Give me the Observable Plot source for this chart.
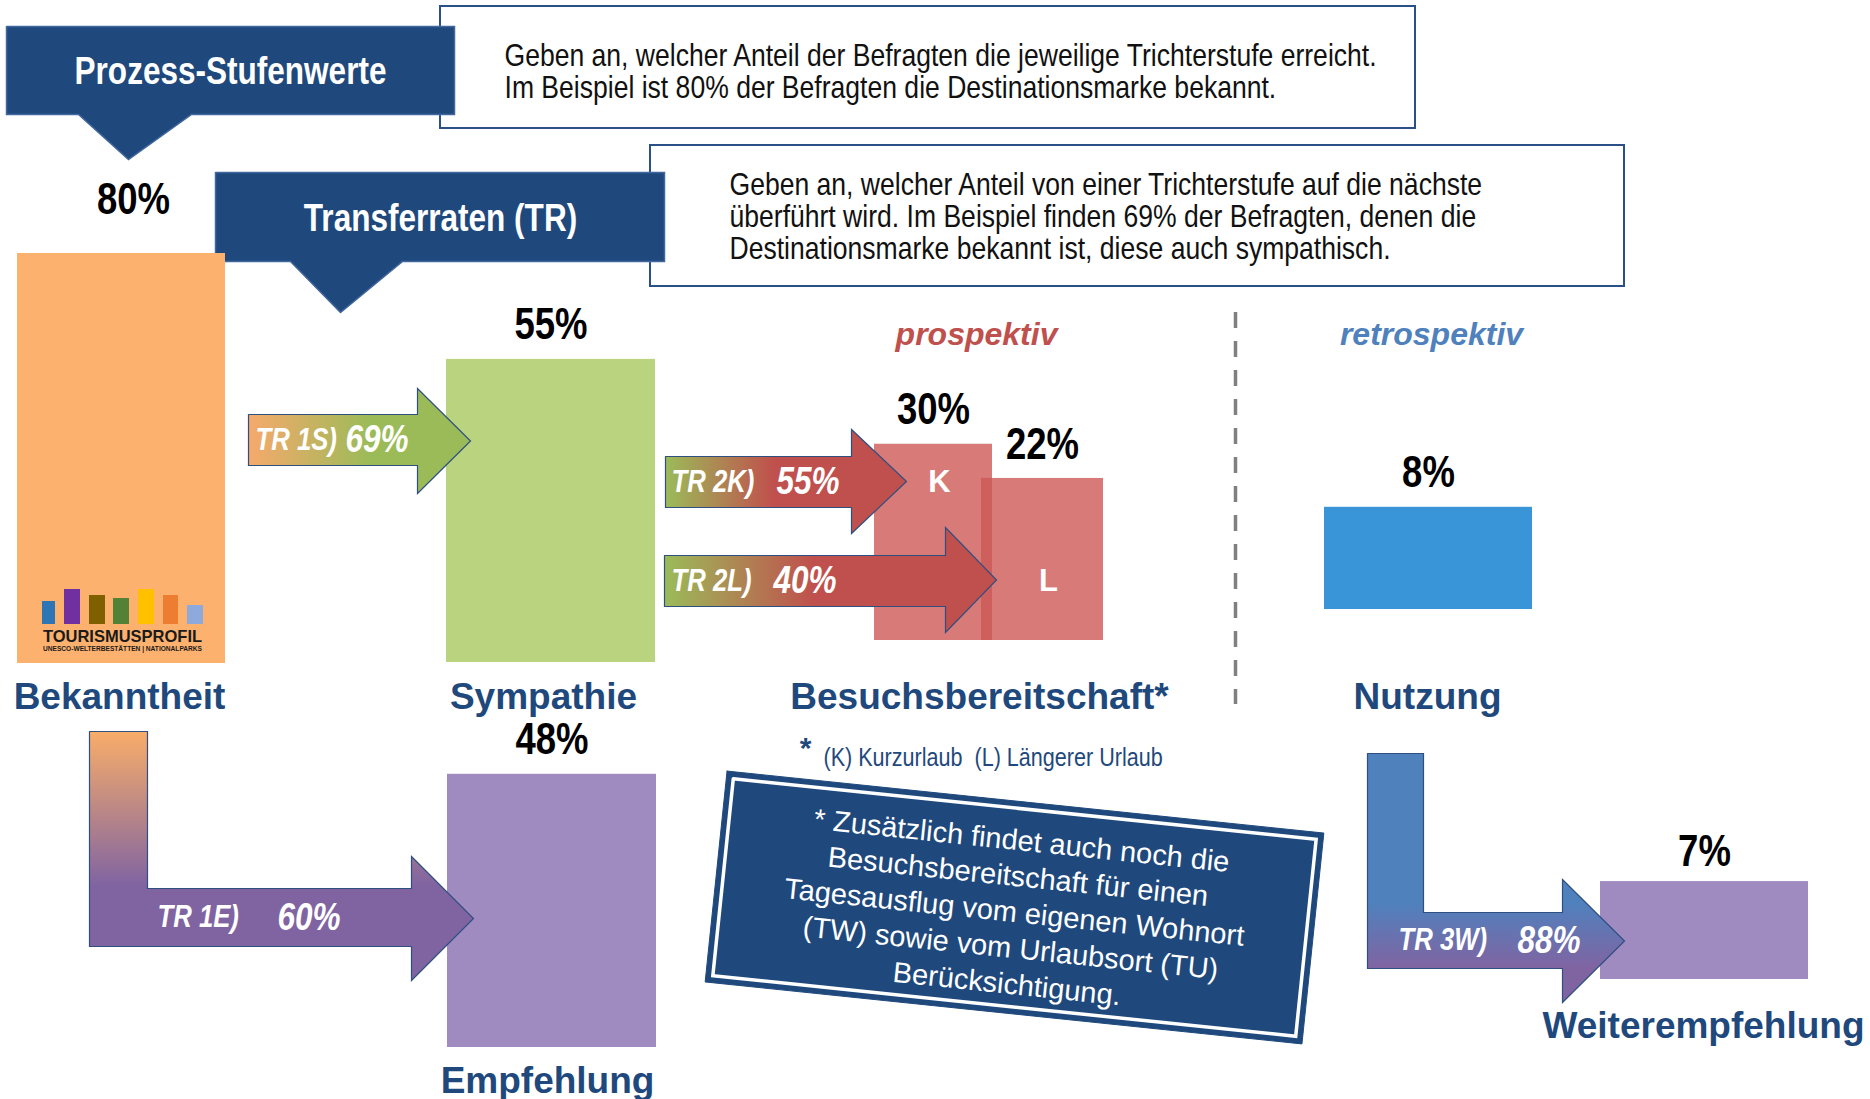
<!DOCTYPE html>
<html>
<head>
<meta charset="utf-8">
<script src="https://cdn.jsdelivr.net/npm/d3@7"></script>
<script src="https://cdn.jsdelivr.net/npm/@observablehq/plot@0.6"></script>
<style>
  html, body { margin: 0; padding: 0; background: #fff; }
  #chart svg { display: block; }
</style>
</head>
<body>
<div id="chart"></div>
<script>
// ---------------- DATA ----------------
const barKeys = ["Bekanntheit", "Sympathie", "K", "L", "Nutzung", "Empfehlung", "Weiterempfehlung"];
const barValues = [80, 55, 30, 22, 8, 48, 7];
const barInnerLabels = ["", "", "K", "L", "", "", ""];
const stageNames = ["Bekanntheit", "Sympathie", "Besuchsbereitschaft*", "Nutzung", "Empfehlung", "Weiterempfehlung"];
const transferCodes = ["TR 1S)", "TR 2K)", "TR 2L)", "TR 1E)", "TR 3W)"];
const transferValues = [69, 55, 40, 60, 88];
const phaseLabels = ["prospektiv", "retrospektiv"];
const calloutTitles = ["Prozess-Stufenwerte", "Transferraten (TR)"];
const calloutTexts = [
  "Geben an, welcher Anteil der Befragten die jeweilige Trichterstufe erreicht.\nIm Beispiel ist 80% der Befragten die Destinationsmarke bekannt.",
  "Geben an, welcher Anteil von einer Trichterstufe auf die nächste\nüberführt wird. Im Beispiel finden 69% der Befragten, denen die\nDestinationsmarke bekannt ist, diese auch sympathisch."
];
const footnoteText = "(K) Kurzurlaub  (L) Längerer Urlaub";
const noteText = "* Zusätzlich findet auch noch die\nBesuchsbereitschaft für einen\nTagesausflug vom eigenen Wohnort\n(TW) sowie vom Urlaubsort (TU)\nBerücksichtigung.";
const logoTitle = "TOURISMUSPROFIL";
const logoSub = "UNESCO-WELTERBESTÄTTEN | NATIONALPARKS";

// ---------------- LAYOUT & STYLE ----------------
const W = 1870, H = 1099;
// "Narrow" texts are drawn in Liberation Sans and compressed horizontally afterwards
const NARROW = "'Liberation Sans', 'Arial Narrow', sans-serif";
const SANS = "'Liberation Sans', Arial, sans-serif";
const NARROW_SCALE = 0.83;
const DARK = "#1F497D";

const barLayout = {
  Bekanntheit:      {x1: 17,   x2: 225,  base: 663,  fill: "#FDB16E", gap: 54, dx: 12},
  Sympathie:        {x1: 446,  x2: 655,  base: 662,  fill: "#B9D37F"},
  K:                {x1: 874,  x2: 992,  base: 640,  fill: "#CD5956", opacity: 0.8, innerY: 482},
  L:                {x1: 981,  x2: 1103, base: 640,  fill: "#CD5956", opacity: 0.8, innerY: 581},
  Nutzung:          {x1: 1324, x2: 1532, base: 609,  fill: "#3A94D8"},
  Empfehlung:       {x1: 447,  x2: 656,  base: 1047, fill: "#A08BC0"},
  Weiterempfehlung: {x1: 1600, x2: 1808, base: 979,  fill: "#A08BC0", gap: 30}
};
const stageLabelPos = [[119, 697], [543, 697], [979, 697], [1427, 697], [547, 1081], [1703, 1026]];

const arrowLayout = [
  {type: "straight", tail: 248, bt: 414, bb: 465, hb: 417,  ht: 388, hbot: 493, tip: 470,  grad: "g1s", codeX: 255,  valX: 345},
  {type: "straight", tail: 665, bt: 456, bb: 507, hb: 851,  ht: 429, hbot: 533, tip: 906,  grad: "g2",  codeX: 671,  valX: 776},
  {type: "straight", tail: 664, bt: 555, bb: 606, hb: 945,  ht: 527, hbot: 632, tip: 996,  grad: "g2",  codeX: 671,  valX: 773},
  {type: "L", vx1: 89,   vx2: 147,  vtop: 731, bt: 888, bb: 946, hb: 411,  ht: 856, hbot: 980,  tip: 473,  grad: "g1e", codeX: 157,  valX: 277},
  {type: "L", vx1: 1367, vx2: 1423, vtop: 753, bt: 912, bb: 968, hb: 1562, ht: 879, hbot: 1002, tip: 1624, grad: "g3w", codeX: 1398, valX: 1517}
];

const calloutLayout = [
  {x1: 6,   x2: 454, y1: 26,  y2: 114, t1: 78,  t2: 191, tipX: 128, tipY: 159, cx: 230, cy: 71},
  {x1: 215, x2: 664, y1: 172, y2: 261, t1: 290, t2: 402, tipX: 340, tipY: 312, cx: 440, cy: 218}
];
const descLayout = [
  {x1: 440, x2: 1415, y1: 6,   y2: 128, tx: 504, ty: 71},
  {x1: 650, x2: 1624, y1: 145, y2: 286, tx: 729, ty: 216}
];
const phaseLayout = [{x: 976, y: 334, fill: "#C0504D"}, {x: 1431, y: 334, fill: "#4F81BD"}];
const noteLayout = {cx: 1014, cy: 907, w: 600, h: 212, angle: 5.93, tx: 1014, ty: 910};

// logo (decoration inside the Bekanntheit bar)
const logoBase = 624;
const logoBars = [
  {x1: 42,  x2: 55,  top: 601, c: "#2E75B6"},
  {x1: 64,  x2: 80,  top: 589, c: "#7030A0"},
  {x1: 89,  x2: 105, top: 595, c: "#7F6000"},
  {x1: 113, x2: 129, top: 598, c: "#538135"},
  {x1: 138, x2: 154, top: 589, c: "#FFC000"},
  {x1: 163, x2: 178, top: 595, c: "#ED7D31"},
  {x1: 187, x2: 203, top: 605, c: "#8EA9DB"}
];

// height scale for the bars (value -> pixel height)
const hScale = (Plot.scale
  ? Plot.scale({y: {type: "linear", domain: [0, 80], range: [68, 410]}})
  : null);
const barHeight = v => hScale ? hScale.apply(v) : d3.scaleLinear([0, 80], [68, 410])(v);

const bars = barKeys.map((k, i) => {
  const L = barLayout[k];
  return {key: k, value: barValues[i], inner: barInnerLabels[i], ...L, top: L.base - barHeight(barValues[i])};
});
const arrows = transferCodes.map((c, i) => ({code: c, value: transferValues[i], ...arrowLayout[i], cy: (arrowLayout[i].bt + arrowLayout[i].bb) / 2}));

function arrowPoints(a) {
  const cy = (a.ht + a.hbot) / 2;
  let pts;
  if (a.type === "straight") {
    pts = [[a.tail, a.bt], [a.hb, a.bt], [a.hb, a.ht], [a.tip, cy], [a.hb, a.hbot], [a.hb, a.bb], [a.tail, a.bb], [a.tail, a.bt]];
  } else {
    pts = [[a.vx1, a.vtop], [a.vx2, a.vtop], [a.vx2, a.bt], [a.hb, a.bt], [a.hb, a.ht], [a.tip, cy], [a.hb, a.hbot], [a.hb, a.bb], [a.vx1, a.bb], [a.vx1, a.vtop]];
  }
  return pts.map(([x, y]) => ({x, y}));
}
function calloutPoints(c) {
  return [[c.x1, c.y1], [c.x2, c.y1], [c.x2, c.y2], [c.t2, c.y2], [c.tipX, c.tipY], [c.t1, c.y2], [c.x1, c.y2], [c.x1, c.y1]].map(([x, y]) => ({x, y}));
}
function rotRect(L, inset = 0) {
  const a = L.angle * Math.PI / 180, c = Math.cos(a), s = Math.sin(a);
  const hw = L.w / 2 - inset, hh = L.h / 2 - inset;
  return [[-hw, -hh], [hw, -hh], [hw, hh], [-hw, hh], [-hw, -hh]].map(([u, v]) => ({x: L.cx + u * c - v * s, y: L.cy + u * s + v * c}));
}

const polyOpts = {x: "x", y: "y", curve: "linear", strokeLinejoin: "miter", strokeMiterlimit: 10};

const marks = [];
// description boxes
descLayout.forEach((d, i) => {
  marks.push(Plot.rect([d], {x1: "x1", x2: "x2", y1: "y1", y2: "y2", fill: "white", stroke: "#2B5088", strokeWidth: 2}));
  marks.push(Plot.text([d], {x: "tx", y: "ty", text: () => calloutTexts[i], textAnchor: "start", lineAnchor: "middle",
    lineHeight: 1.01, fontSize: 32, fontFamily: NARROW, fill: "#111"}));
});
// callouts
calloutLayout.forEach((c, i) => {
  marks.push(Plot.line(calloutPoints(c), {...polyOpts, fill: DARK, stroke: "#41679E", strokeWidth: 1.5}));
  marks.push(Plot.text([c], {x: "cx", y: "cy", text: () => calloutTitles[i], fill: "white", fontWeight: "bold",
    fontSize: 38, fontFamily: NARROW, lineAnchor: "middle"}));
});
// bars
bars.forEach(b => {
  marks.push(Plot.rect([b], {x1: "x1", x2: "x2", y1: "base", y2: "top", fill: b.fill, fillOpacity: b.opacity ?? 1}));
});
// logo
marks.push(Plot.rect(logoBars, {x1: "x1", x2: "x2", y1: () => logoBase, y2: "top", fill: "c"}));
marks.push(Plot.text([logoTitle], {x: () => 122, y: () => 636, text: d => d, fontWeight: "bold", fontSize: 16.5, fontFamily: SANS, fill: "#1a1a1a", lineAnchor: "middle"}));
marks.push(Plot.text([logoSub], {x: () => 122, y: () => 648, text: d => d, fontWeight: "bold", fontSize: 6.6, fontFamily: SANS, fill: "#1a1a1a", lineAnchor: "middle"}));
// value labels above bars
marks.push(Plot.text(bars, {x: d => (d.x1 + d.x2) / 2 + (d.dx ?? 0), y: d => d.top - (d.gap ?? 34), text: d => d.value + "%",
  fontWeight: "bold", fontSize: 44, fontFamily: NARROW, fill: "#000", lineAnchor: "middle"}));
// inner labels K / L
marks.push(Plot.text(bars.filter(d => d.inner), {x: d => (d.x1 + d.x2) / 2 + 6, y: "innerY", text: "inner",
  fontWeight: "bold", fontSize: 31, fontFamily: SANS, fill: "white", lineAnchor: "middle"}));
// arrows
arrows.forEach(a => {
  marks.push(Plot.line(arrowPoints(a), {...polyOpts, fill: `url(#${a.grad})`, stroke: "#2E4F80", strokeWidth: 1.2}));
});
marks.push(Plot.text(arrows, {x: "codeX", y: "cy", text: "code", textAnchor: "start", lineAnchor: "middle",
  fill: "white", fontStyle: "italic", fontWeight: "bold", fontSize: 31, fontFamily: NARROW}));
marks.push(Plot.text(arrows, {x: "valX", y: "cy", text: d => d.value + "%", textAnchor: "start", lineAnchor: "middle",
  fill: "white", fontStyle: "italic", fontWeight: "bold", fontSize: 38, fontFamily: NARROW}));
// stage names
marks.push(Plot.text(stageNames, {x: (d, i) => stageLabelPos[i][0], y: (d, i) => stageLabelPos[i][1], text: d => d,
  fontWeight: "bold", fontSize: 37, fontFamily: SANS, fill: DARK, lineAnchor: "middle"}));
// phase labels
marks.push(Plot.text(phaseLabels, {x: (d, i) => phaseLayout[i].x, y: (d, i) => phaseLayout[i].y, text: d => d,
  fill: (d, i) => phaseLayout[i].fill, fontWeight: "bold", fontStyle: "italic", fontSize: 32, fontFamily: SANS, lineAnchor: "middle"}));
// dashed separator
marks.push(Plot.ruleX([1235], {x: d => d, y1: 312, y2: 704, stroke: "#808080", strokeWidth: 3.5, strokeDasharray: "16,13"}));
// footnote
marks.push(Plot.text(["*"], {x: () => 805, y: () => 748, text: d => d, fontSize: 30, fontWeight: "bold", fontFamily: SANS, fill: DARK, lineAnchor: "middle"}));
marks.push(Plot.text([footnoteText], {x: () => 823, y: () => 757, text: d => d, textAnchor: "start", fontSize: 26, fontFamily: NARROW, fill: DARK, lineAnchor: "middle"}));
// rotated note box
marks.push(Plot.line(rotRect(noteLayout), {...polyOpts, fill: DARK, stroke: DARK, strokeWidth: 1}));
marks.push(Plot.line(rotRect(noteLayout, 7), {...polyOpts, fill: "none", stroke: "white", strokeWidth: 3.5}));
marks.push(Plot.text([noteText], {x: () => noteLayout.tx, y: () => noteLayout.ty, text: d => d, rotate: noteLayout.angle,
  fill: "white", fontSize: 29, lineHeight: 1.24, fontFamily: SANS, lineAnchor: "middle", textAnchor: "middle"}));

const svg = Plot.plot({
  width: W, height: H, margin: 0,
  x: {domain: [0, W], range: [0, W], axis: null},
  y: {domain: [0, H], range: [0, H], axis: null},
  color: {type: "identity"},
  style: {background: "#fff", fontFamily: SANS, overflow: "visible"},
  marks
});

const defs = d3.select(svg).insert("defs", ":first-child");
defs.html(`
  <linearGradient id="g1s" x1="0" y1="0" x2="1" y2="0">
    <stop offset="0" stop-color="#F6A96C"/><stop offset="0.55" stop-color="#9BBB59"/><stop offset="1" stop-color="#9BBB59"/>
  </linearGradient>
  <linearGradient id="g2" x1="0" y1="0" x2="1" y2="0">
    <stop offset="0" stop-color="#9BBB59"/><stop offset="0.45" stop-color="#C0504D"/><stop offset="1" stop-color="#C0504D"/>
  </linearGradient>
  <linearGradient id="g1e" x1="0" y1="0" x2="0" y2="1">
    <stop offset="0" stop-color="#F9AD69"/><stop offset="0.62" stop-color="#8064A2"/><stop offset="1" stop-color="#8064A2"/>
  </linearGradient>
  <linearGradient id="g3w" x1="0" y1="0" x2="0" y2="1">
    <stop offset="0" stop-color="#4F81BD"/><stop offset="0.6" stop-color="#4F81BD"/><stop offset="0.86" stop-color="#8064A2"/><stop offset="1" stop-color="#8064A2"/>
  </linearGradient>`);

// condense the "narrow" texts horizontally (Arial Narrow look)
d3.select(svg).selectAll("g[font-family*='Narrow'] text").each(function () {
  const t = this.getAttribute("transform");
  if (t) {
    this.setAttribute("transform", `${t} scale(${NARROW_SCALE},1)`);
  } else {
    const x = +this.getAttribute("x") || 0, y = +this.getAttribute("y") || 0;
    this.setAttribute("transform", `translate(${x},${y}) scale(${NARROW_SCALE},1) translate(${-x},${-y})`);
  }
});

document.getElementById("chart").appendChild(svg);
</script>
</body>
</html>
